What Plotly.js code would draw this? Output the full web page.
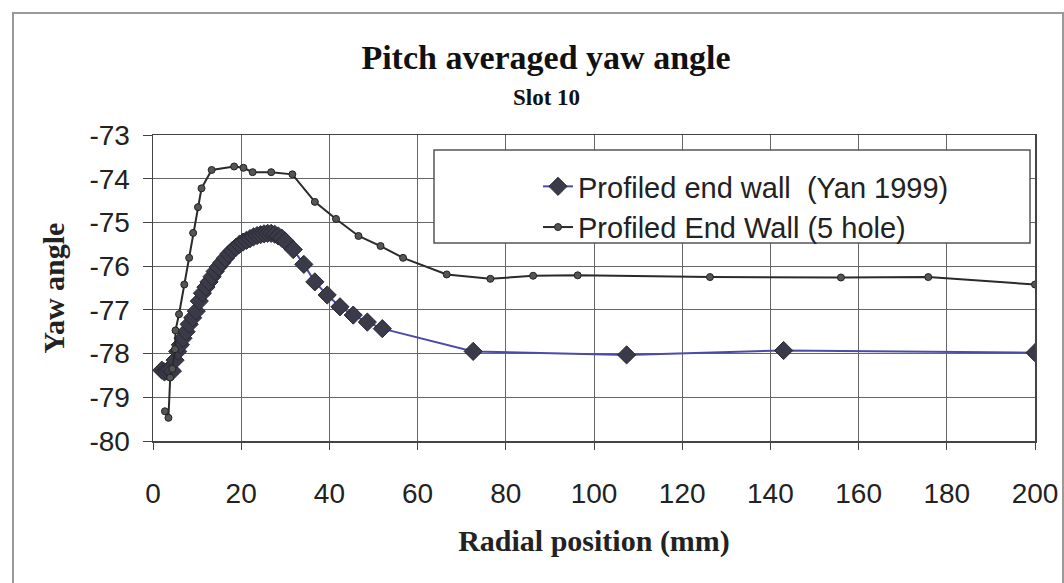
<!DOCTYPE html>
<html>
<head>
<meta charset="utf-8">
<script src="https://cdn.plot.ly/plotly-3.0.1.min.js"></script>
<style>
html,body{margin:0;padding:0;background:#fff;}
#chart{width:1064px;height:583px;position:relative;}
#frame{position:absolute;left:12px;top:12px;width:1048px;height:580px;border:2px solid #9a9a9a;border-bottom:none;pointer-events:none;}
</style>
</head>
<body>
<div id="chart"></div>
<div id="frame"></div>
<script>
// Profiled end wall (Yan 1999)
const yanX = [2.0, 2.6, 3.2, 3.8, 4.4, 5.0, 5.6, 6.2, 6.8, 7.5, 8.2, 9.0, 9.8, 10.5, 11.2, 12.0, 12.7, 13.4, 14.1, 14.8, 15.6, 16.4, 17.2, 18.0, 18.8, 19.6, 20.4, 21.2, 22.0, 22.8, 23.6, 24.4, 25.2, 26.0, 26.8, 27.6, 28.4, 29.2, 30.0, 31.8, 34.2, 36.7, 39.5, 42.4, 45.4, 48.6, 52.0, 72.6, 107.4, 143.0, 200];
const yanY = [-78.38, -78.42, -78.40, -78.38, -78.40, -78.15, -77.95, -77.80, -77.65, -77.50, -77.33, -77.18, -77.03, -76.80, -76.62, -76.48, -76.36, -76.24, -76.12, -76.02, -75.92, -75.82, -75.72, -75.64, -75.57, -75.50, -75.45, -75.41, -75.37, -75.33, -75.30, -75.28, -75.26, -75.25, -75.25, -75.27, -75.31, -75.36, -75.43, -75.62, -75.96, -76.36, -76.66, -76.93, -77.12, -77.28, -77.43, -77.95, -78.03, -77.93, -77.98];
// Profiled End Wall (5 hole)
const holeX = [2.7, 3.5, 3.9, 4.4, 5.0, 5.1, 5.9, 7.1, 8.2, 9.1, 10.2, 11.0, 13.3, 18.4, 20.5, 22.6, 26.8, 31.6, 36.7, 41.5, 46.6, 51.6, 56.7, 66.6, 76.5, 86.2, 96.3, 126.3, 156.0, 175.8, 200];
const holeY = [-79.32, -79.47, -78.55, -78.35, -77.90, -77.47, -77.10, -76.42, -75.81, -75.24, -74.65, -74.22, -73.80, -73.72, -73.75, -73.85, -73.85, -73.90, -74.53, -74.92, -75.31, -75.54, -75.81, -76.19, -76.29, -76.22, -76.21, -76.25, -76.26, -76.25, -76.42];
const xTicks = [0, 20, 40, 60, 80, 100, 120, 140, 160, 180, 200];
const yTicks = [-80, -79, -78, -77, -76, -75, -74, -73];

const traces = [
  {
    x: yanX, y: yanY, type: 'scatter', mode: 'lines+markers',
    name: 'Profiled end wall  (Yan 1999)', legendgroup: 'a',
    line: {color: '#4b4ba8', width: 2},
    marker: {symbol: 'diamond', size: 14, color: '#3a3a48', line: {color: '#2a2a35', width: 1}}
  },
  {
    x: holeX, y: holeY, type: 'scatter', mode: 'lines+markers',
    name: 'Profiled End Wall (5 hole)', legendgroup: 'b',
    line: {color: '#2a2a2a', width: 2},
    marker: {symbol: 'circle', size: 7, color: '#555', line: {color: '#222', width: 1}}
  }
];

const layout = {
  width: 1064, height: 583,
  margin: {l: 153, r: 29, t: 135, b: 142},
  paper_bgcolor: '#fff', plot_bgcolor: '#fff',
  showlegend: true,
  title: {
    text: '<b>Pitch averaged yaw angle</b>',
    x: 546/1064, xanchor: 'center', xref: 'container',
    y: 1 - 57/583, yanchor: 'middle', yref: 'container',
    font: {family: 'Liberation Serif, Times New Roman, serif', size: 34, color: '#111'}
  },
  annotations: [{
    text: '<b>Slot 10</b>', xref: 'paper', yref: 'paper',
    x: (546-153)/882, y: 1 + (135-97)/306, xanchor: 'center', yanchor: 'middle',
    showarrow: false,
    font: {family: 'Liberation Serif, Times New Roman, serif', size: 23, color: '#111'}
  }],
  shapes: [{
    type: 'rect', xref: 'paper', yref: 'paper', layer: 'above',
    x0: (434-153)/882, x1: (1030-153)/882,
    y0: (441-243)/306, y1: (441-150)/306,
    fillcolor: '#fff', line: {color: '#555', width: 1.5}
  }],
  legend: {
    x: (538-153)/882, xanchor: 'left',
    y: (441-161)/306, yanchor: 'top',
    bgcolor: 'rgba(0,0,0,0)', borderwidth: 0,
    traceorder: 'grouped', tracegroupgap: 0,
    font: {family: 'Liberation Sans, Arial, sans-serif', size: 29, color: '#222'}
  },
  xaxis: {
    range: [0, 200], tickvals: xTicks, ticktext: xTicks.map(String),
    ticks: 'outside', ticklen: 7, tickcolor: '#444', tickwidth: 1,
    ticklabelstandoff: 20,
    showline: true, mirror: true, linecolor: '#444', linewidth: 1.5,
    showgrid: true, gridcolor: '#666', gridwidth: 1, zeroline: false,
    tickfont: {family: 'Liberation Sans, Arial, sans-serif', size: 28, color: '#222'},
    title: {text: '<b>Radial position (mm)</b>', standoff: 22,
      font: {family: 'Liberation Serif, Times New Roman, serif', size: 30, color: '#222'}}
  },
  yaxis: {
    range: [-80, -73], tickvals: yTicks, ticktext: yTicks.map(String),
    ticks: 'outside', ticklen: 9, tickcolor: '#444', tickwidth: 1,
    ticklabelstandoff: 7,
    showline: true, mirror: true, linecolor: '#444', linewidth: 1.5,
    showgrid: true, gridcolor: '#666', gridwidth: 1, zeroline: false,
    tickfont: {family: 'Liberation Sans, Arial, sans-serif', size: 28, color: '#222'},
    title: {text: '<b>Yaw angle</b>', standoff: 16,
      font: {family: 'Liberation Serif, Times New Roman, serif', size: 30, color: '#222'}}
  }
};

Plotly.newPlot('chart', traces, layout, {staticPlot: true, displayModeBar: false});
</script>
</body>
</html>
